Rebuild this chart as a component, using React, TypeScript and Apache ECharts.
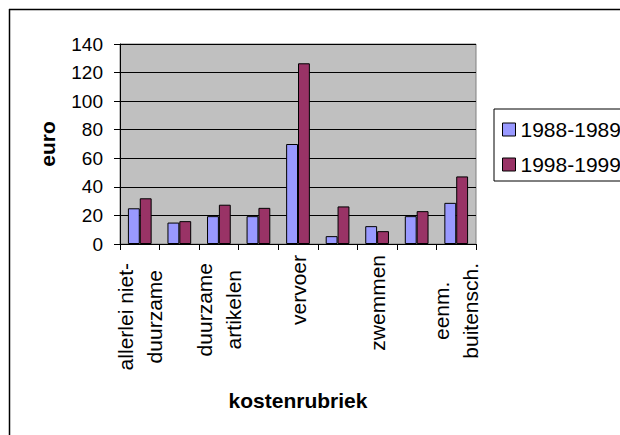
import React, { useEffect, useRef } from "react";
import * as echarts from "echarts";

const categories = [
  "allerlei niet-\nduurzame",
  "",
  "duurzame\nartikelen",
  "",
  "vervoer",
  "",
  "zwemmen",
  "",
  "eenm.\nbuitensch.",
];
const seriesNames = ["1988-1989", "1998-1999"];
const values1988 = [25, 15, 19.5, 19.5, 70, 5.5, 12.5, 19.5, 28.8];
const values1998 = [32, 16, 27.5, 25.3, 126.5, 26.3, 9, 23, 47.3];
const yTicks = { min: 0, max: 140, interval: 20 };
const axisTitles = { x: "kostenrubriek", y: "euro" };

const FONT = "'Liberation Sans', Arial, sans-serif";

export default function App() {
  const ref = useRef<HTMLDivElement>(null);
  useEffect(() => {
    document.documentElement.style.overflow = "hidden";
    document.body.style.overflow = "hidden";
    if (!ref.current) return;
    const chart = echarts.init(ref.current, undefined, { renderer: "svg" });
    const labelStyle = { fontSize: 21, lineHeight: 29, align: "center", color: "#000", fontFamily: FONT };
    chart.setOption({
      animation: false,
      backgroundColor: "#ffffff",
      textStyle: { fontFamily: FONT },
      graphic: [
        {
          type: "line",
          shape: { x1: 9.5, y1: 9, x2: 9.5, y2: 435 },
          style: { stroke: "#000", lineWidth: 1.5 },
          silent: true,
          z: 100,
        },
        {
          type: "line",
          shape: { x1: 9, y1: 9.5, x2: 620, y2: 9.5 },
          style: { stroke: "#000", lineWidth: 1.5 },
          silent: true,
          z: 100,
        },
      ],
      grid: {
        left: 120,
        top: 44,
        width: 356,
        height: 200,
        show: true,
        backgroundColor: "#C0C0C0",
        borderColor: "#808080",
        borderWidth: 1,
        containLabel: false,
      },
      legend: {
        orient: "vertical",
        left: 494,
        top: 109,
        padding: [10, 30, 6, 8],
        itemGap: 14,
        itemWidth: 13,
        itemHeight: 13,
        borderColor: "#000",
        borderWidth: 1,
        backgroundColor: "#fff",
        icon: "rect",
        itemStyle: { borderColor: "#000", borderWidth: 1 },
        textStyle: { fontSize: 21, color: "#000", fontFamily: FONT },
        data: seriesNames,
      },
      xAxis: {
        type: "category",
        data: categories,
        name: axisTitles.x,
        nameLocation: "middle",
        nameGap: 146,
        nameTextStyle: { fontSize: 21, fontWeight: "bold", color: "#000", fontFamily: FONT },
        axisLine: { show: true, lineStyle: { color: "#000", width: 1 } },
        axisTick: { show: true, interval: 0, length: 6, inside: false, lineStyle: { color: "#000" } },
        axisLabel: {
          interval: 0,
          rotate: 90,
          margin: 10,
          fontSize: 21,
          lineHeight: 29,
          color: "#000",
          fontFamily: FONT,
          formatter: (v: string) => {
            if (!v) return "";
            const lines = v.split("\n");
            const key = lines.length === 1 && lines[0].length < 8 ? "s" : "c";
            return lines.map((l) => `{${key}|${l}}`).join("\n");
          },
          rich: {
            c: { ...labelStyle, padding: [0, 9, 0, 0] },
            s: { ...labelStyle, padding: [0, 1, 0, 0] },
          },
        },
        splitLine: { show: false },
      },
      yAxis: {
        type: "value",
        min: yTicks.min,
        max: yTicks.max,
        interval: yTicks.interval,
        name: axisTitles.y,
        nameLocation: "middle",
        nameGap: 62,
        nameTextStyle: { fontSize: 21, fontWeight: "bold", color: "#000", fontFamily: FONT },
        axisLine: { show: true, lineStyle: { color: "#000", width: 1 } },
        axisTick: { show: true, length: 6, inside: false, lineStyle: { color: "#000" } },
        axisLabel: { fontSize: 19, color: "#000", margin: 17, fontFamily: FONT },
        splitLine: { show: true, lineStyle: { color: "#000", width: 1 } },
      },
      series: [
        {
          name: seriesNames[0],
          type: "bar",
          data: values1988,
          barGap: "0%",
          barCategoryGap: "40%",
          itemStyle: { color: "#9999FF", borderColor: "#000", borderWidth: 1 },
        },
        {
          name: seriesNames[1],
          type: "bar",
          data: values1998,
          barGap: "0%",
          barCategoryGap: "40%",
          itemStyle: { color: "#993366", borderColor: "#000", borderWidth: 1 },
        },
      ],
    });
    return () => chart.dispose();
  }, []);
  return (
    <div
      ref={ref}
      style={{ position: "fixed", left: 0, top: 0, width: 620, height: 435 }}
    />
  );
}
